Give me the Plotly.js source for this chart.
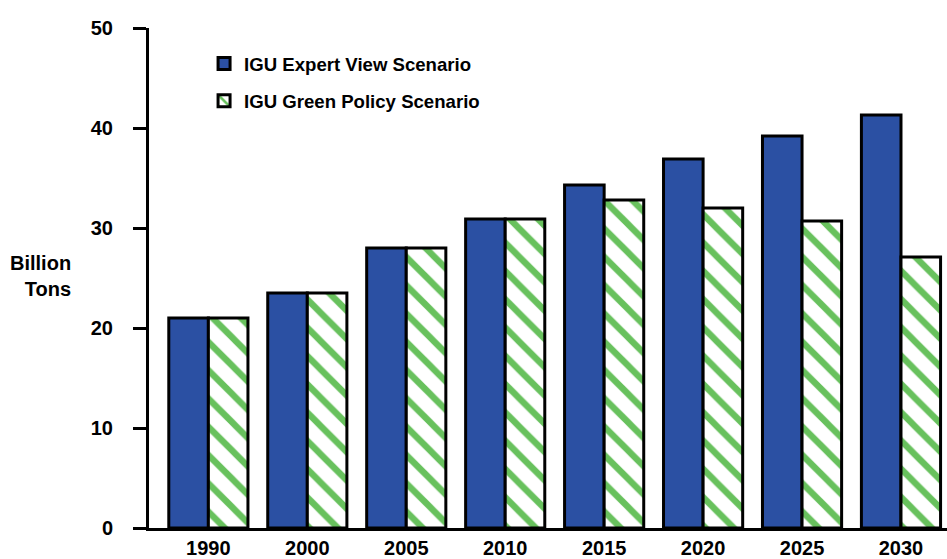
<!DOCTYPE html>
<html>
<head>
<meta charset="utf-8">
<script src="https://cdn.plot.ly/plotly-3.0.1.min.js"></script>
<style>html,body{margin:0;padding:0;background:#fff;}#chart{width:947px;height:559px;}</style>
</head>
<body>
<div id="chart"></div>
<script>
const years = ["1990", "2000", "2005", "2010", "2015", "2020", "2025", "2030"];
const expertView = [21.0, 23.5, 28.0, 30.9, 34.3, 36.9, 39.2, 41.3];
const greenPolicy = [21.0, 23.5, 28.0, 30.9, 32.8, 32.0, 30.7, 27.1];
const seriesNames = ["IGU Expert View Scenario", "IGU Green Policy Scenario"];
const yTicks = [0, 10, 20, 30, 40, 50];

const blue = "#2B50A3";
const green = "#68C15D";

const traces = [
  {
    type: "bar", name: seriesNames[0], x: years, y: expertView,
    legendgroup: "a",
    marker: {color: blue, line: {color: "#000", width: 3}},
    hoverinfo: "x+y"
  },
  {
    type: "bar", name: seriesNames[1], x: years, y: greenPolicy,
    legendgroup: "b",
    marker: {color: "#fff", line: {color: "#000", width: 3},
      pattern: {shape: "\\", fgcolor: green, bgcolor: "#fff", size: 20, solidity: 0.32, fillmode: "replace"}},
    hoverinfo: "x+y"
  }
];

const layout = {
  width: 947, height: 559,
  margin: {l: 149, r: 0, t: 28, b: 31},
  paper_bgcolor: "#fff", plot_bgcolor: "#fff",
  font: {family: "Liberation Sans, Arial, sans-serif", size: 20, color: "#000", weight: "bold"},
  barmode: "group", bargap: 0.2, bargroupgap: 0,
  showlegend: true,
  legend: {x: 0.069, y: 0.966, xanchor: "left", yanchor: "top", bgcolor: "rgba(0,0,0,0)",
    font: {size: 18.6, weight: "bold"}, tracegroupgap: 10, traceorder: "grouped"},
  xaxis: {
    type: "category", range: [-0.6, 7.465], showline: true, linecolor: "#000", linewidth: 3,
    ticks: "", showgrid: false, zeroline: false, fixedrange: true,
    tickfont: {size: 20, weight: "bold"}, ticklabelstandoff: 0
  },
  yaxis: {
    range: [0, 50], tickvals: yTicks, ticktext: yTicks.map(String),
    showline: true, linecolor: "#000", linewidth: 3,
    ticks: "outside", ticklen: 13, tickwidth: 3, tickcolor: "#000",
    showgrid: false, zeroline: false, fixedrange: true,
    tickfont: {size: 20, weight: "bold"}, ticklabelstandoff: 16
  },
  annotations: [{
    text: "Billion<br>Tons", xref: "paper", yref: "paper",
    x: -0.095, y: 0.504, xanchor: "right", yanchor: "middle", align: "right",
    showarrow: false, font: {size: 20, weight: "bold"}
  }]
};

Plotly.newPlot("chart", traces, layout, {displayModeBar: false, staticPlot: true});
</script>
</body>
</html>
